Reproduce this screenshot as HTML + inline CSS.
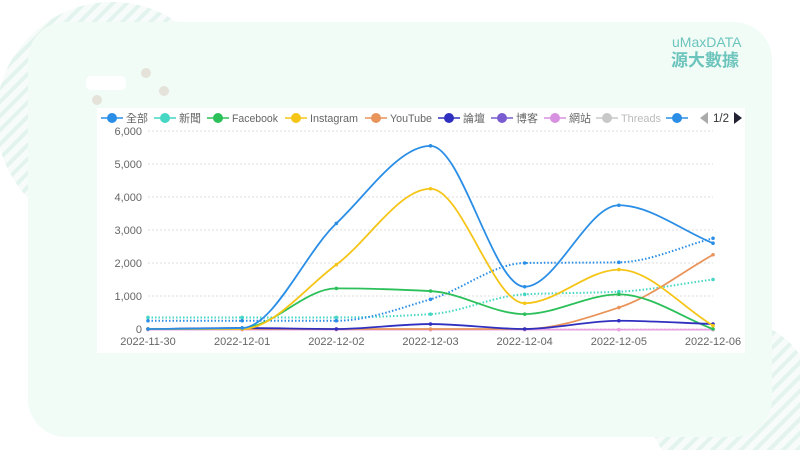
<!DOCTYPE html>
<html><head><meta charset="utf-8"><style>
html,body{margin:0;padding:0;background:#fff;overflow:hidden;width:800px;height:450px;}
body{position:relative;font-family:"Liberation Sans","Noto Sans CJK TC",sans-serif;}
svg{display:block;overflow:hidden;}
</style></head><body>
<svg width="800" height="450" viewBox="0 0 800 450" style="position:absolute;left:0;top:0">
<defs>
<pattern id="st" width="10" height="10" patternUnits="userSpaceOnUse" patternTransform="rotate(45)">
<rect width="10" height="10" fill="#f7fcfa"/><rect width="4" height="10" fill="#e3f3ee"/>
</pattern>
<clipPath id="cp"><rect width="800" height="450"/></clipPath>
</defs>
<g clip-path="url(#cp)">
<circle cx="112" cy="118" r="116" fill="url(#st)"/>
<path d="M662,450 A78,78 0 0 1 800,355 L800,450Z" fill="url(#st)"/>
<rect x="28" y="22" width="744" height="415" rx="38" fill="#f2fcf7"/>
</g>
<rect x="86" y="76" width="40" height="14" rx="5" fill="#fff"/>
<circle cx="146" cy="73" r="5" fill="#e4e2d9"/><circle cx="164" cy="91" r="5" fill="#e4e2d9"/><circle cx="97" cy="100" r="5" fill="#e4e2d9"/>
<text x="672" y="47" font-size="14" fill="#6cc4bc">uMaxDATA</text>
<text x="671" y="66" font-size="17" font-weight="bold" fill="#6cc4bc" font-family="Noto Sans CJK TC,sans-serif">源大數據</text>
<rect x="97" y="108" width="648" height="245" fill="#fff"/>
<g id="g"></g>
</svg>
<script>
const g=document.getElementById('g');let h='';
const X=i=>148+i*94.17, Y=v=>329-v*0.033;
for(let k=0;k<=6;k++){const y=Y(k*1000);h+=`<line x1="148" x2="713" y1="${y}" y2="${y}" stroke="#ddd" stroke-dasharray="2,2"/>`;
h+=`<text x="142" y="${y+4}" font-size="11" fill="#666" text-anchor="end">${(k*1000).toLocaleString('en-US')}</text>`;}
const d=['2022-11-30','2022-12-01','2022-12-02','2022-12-03','2022-12-04','2022-12-05','2022-12-06'];
d.forEach((t,i)=>h+=`<text x="${X(i)}" y="345" font-size="11" fill="#666" text-anchor="middle">${t}</text>`);
function path(vs){const p=vs.map((v,i)=>[X(i),Y(v)]);const n=p.length;const dx=94.17;
const dl=[];for(let i=0;i<n-1;i++)dl.push((p[i+1][1]-p[i][1])/dx);
const m=[];for(let i=0;i<n;i++){if(i==0)m.push(dl[0]);else if(i==n-1)m.push(dl[n-2]);else{if(dl[i-1]*dl[i]<=0)m.push(0);else m.push(2/(1/dl[i-1]+1/dl[i]));}}
let s=`M${p[0]}`;
for(let i=0;i<n-1;i++){const c1=[p[i][0]+dx/3,p[i][1]+m[i]*dx/3],c2=[p[i+1][0]-dx/3,p[i+1][1]-m[i+1]*dx/3];s+=` C${c1} ${c2} ${p[i+1]}`;}return s;}
const S=[
['#e8a0e0',[-20,-20,-20,-20,-20,-20,-20],0],
['#45d6c4',[350,350,350,450,1050,1130,1500],1],
['#2a8ee6',[250,250,250,900,2000,2020,2750],1],
['#e8945a',[0,0,0,0,0,650,2250],0],
['#2cc05a',[0,30,1230,1150,450,1050,0],0],
['#3030c0',[0,30,0,150,0,250,150],0],
['#f5c518',[0,0,1950,4250,780,1800,100],0],
['#2a8ee6',[0,30,3200,5550,1280,3750,2600],0]];
S.forEach(([c,v,dot])=>{h+=`<path d="${path(v)}" fill="none" stroke="${c}" stroke-width="${dot?2:1.8}" ${dot?'stroke-dasharray="1.5,2"':''}/>`;
v.forEach((y,i)=>h+=`<circle cx="${X(i)}" cy="${Y(y)}" r="1.8" fill="${c}"/>`);});
const L=[['#2a8ee6','全部',112,22],['#45d6c4','新聞',165,22],['#2cc05a','Facebook',218,46],['#f5c518','Instagram',296,48],['#e8945a','YouTube',376,42],['#3030c0','論壇',449,22],['#7a5cd0','博客',502,22],['#d890e0','網站',555,22],['#c8c8c8','Threads',607,40],['#2a8ee6','',677,0]];
L.forEach(([c,t,cx,w])=>{h+=`<line x1="${cx-11}" x2="${cx+11}" y1="118" y2="118" stroke="${c}" stroke-width="1.5"/><circle cx="${cx}" cy="118" r="5" fill="${c}"/>`;
if(t)h+=`<text x="${cx+14}" y="122" font-size="11" fill="${t=='Threads'?'#bbb':'#666'}" textLength="${w}" lengthAdjust="spacingAndGlyphs">${t}</text>`;});
h+=`<path d="M708,112 L700,118 L708,124Z" fill="#aaa"/><text x="713" y="122" font-size="11.5" fill="#333">1/2</text><path d="M734,112 L742,118 L734,124Z" fill="#223"/>`;
g.innerHTML=h;
</script>
</body></html>
